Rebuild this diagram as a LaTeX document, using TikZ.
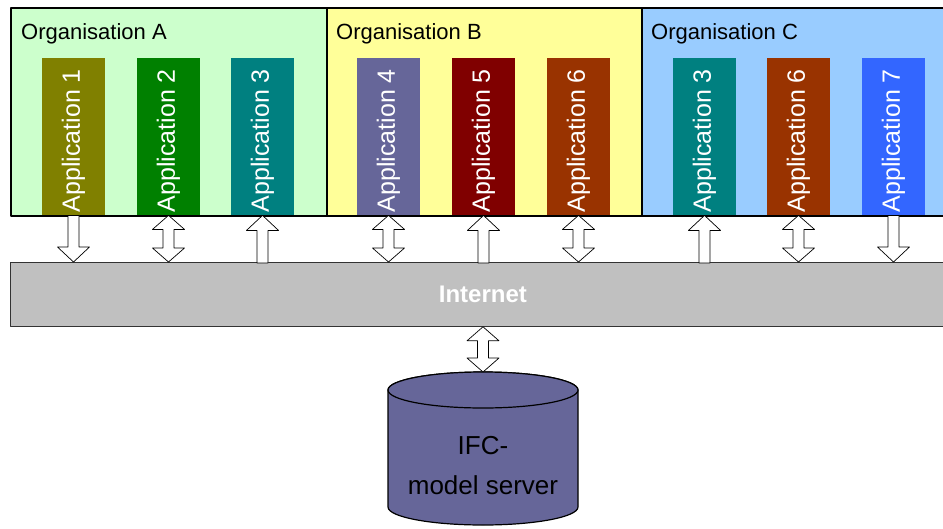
\documentclass[tikz,border=0pt]{standalone}
\usepackage{fontspec}
\setmainfont{Liberation Sans}
\usepackage{tikz}
\usetikzlibrary{arrows}
\definecolor{orgA}{HTML}{CCFFCC}
\definecolor{orgB}{HTML}{FFFF99}
\definecolor{orgC}{HTML}{99CCFF}
\definecolor{appOlive}{HTML}{808000}
\definecolor{appGreen}{HTML}{008000}
\definecolor{appTeal}{HTML}{008080}
\definecolor{appSlate}{HTML}{666699}
\definecolor{appMaroon}{HTML}{800000}
\definecolor{appRust}{HTML}{993300}
\definecolor{appBlue}{HTML}{3366FF}
\definecolor{netGrey}{HTML}{C0C0C0}
\tikzset{
    org/.style={draw=black,line width=1.5pt,anchor=north west,inner sep=0pt,minimum height=208pt},
    orglabel/.style={anchor=base west,inner sep=0pt,font=\fontsize{22}{26}\selectfont},
    app/.style={anchor=north,inner sep=0pt,minimum width=63pt,minimum height=157pt,text=white,font=\fontsize{25}{28}\selectfont},
    net/.style={draw=black!80,line width=0.8pt,fill=netGrey,anchor=north west,inner sep=0pt,minimum width=945pt,minimum height=64pt,text=white,font=\bfseries\fontsize{24}{28}\selectfont},
    blockarrow/.style={draw=black,line width=0.7pt,fill=white},
    srvbody/.style={draw=black,line width=1.2pt,fill=appSlate},
    srvtext/.style={align=center,inner sep=0pt,font=\fontsize{26}{40}\selectfont}
}
\newcommand{\applabel}[1]{\rotatebox{90}{\kern-8pt #1}}
\newcommand{\arrowup}[2]{%
    \coordinate (ta) at (#1); \coordinate (tb) at (#2);
    \draw[blockarrow] (ta) -- ([shift={(16,15)}]ta) -- ([shift={(5.5,15)}]ta) -- ([shift={(5.5,1)}]tb)
        -- ([shift={(-5.5,1)}]tb) -- ([shift={(-5.5,15)}]ta) -- ([shift={(-16,15)}]ta) -- cycle;}
\newcommand{\arrowdown}[2]{%
    \coordinate (ta) at (#1); \coordinate (tb) at (#2);
    \draw[blockarrow] (tb) -- ([shift={(16,-15)}]tb) -- ([shift={(5.5,-15)}]tb) -- ([shift={(5.5,0)}]ta)
        -- ([shift={(-5.5,0)}]ta) -- ([shift={(-5.5,-15)}]tb) -- ([shift={(-16,-15)}]tb) -- cycle;}
\newcommand{\arrowboth}[2]{%
    \coordinate (ta) at (#1); \coordinate (tb) at (#2);
    \draw[blockarrow] (ta) -- ([shift={(16,14)}]ta) -- ([shift={(5.5,14)}]ta) -- ([shift={(5.5,-14)}]tb)
        -- ([shift={(16,-14)}]tb) -- (tb) -- ([shift={(-16,-14)}]tb) -- ([shift={(-5.5,-14)}]tb)
        -- ([shift={(-5.5,14)}]ta) -- ([shift={(-16,14)}]ta) -- cycle;}

\begin{document}
\begin{tikzpicture}[line cap=round,line join=round,x=1.0pt,y=-1.0pt]
        \useasboundingbox (0,0) rectangle (943,528);
        \clip (0,0) rectangle (943,528);
        \node[org,fill=orgA,minimum width=316pt] (orgA) at (10,7) {};
        \node[org,fill=orgB,minimum width=315pt] (orgB) at (326,7) {};
        \node[org,fill=orgC,minimum width=320pt] (orgC) at (641,7) {};
        \node[orglabel] (labA) at (21,39) {Organisation A};
        \node[orglabel] (labB) at (336,39) {Organisation B};
        \node[orglabel] (labC) at (651,39) {Organisation C};
        \node[app,fill=appOlive] (app1) at (73.5,58) {\applabel{Application 1}};
        \node[app,fill=appGreen] (app2) at (168.5,58) {\applabel{Application 2}};
        \node[app,fill=appTeal] (app3) at (262.5,58) {\applabel{Application 3}};
        \node[app,fill=appSlate] (app4) at (388.5,58) {\applabel{Application 4}};
        \node[app,fill=appMaroon] (app5) at (483.5,58) {\applabel{Application 5}};
        \node[app,fill=appRust] (app6) at (578.5,58) {\applabel{Application 6}};
        \node[app,fill=appTeal] (app3c) at (704.5,58) {\applabel{Application 3}};
        \node[app,fill=appRust] (app6c) at (798.5,58) {\applabel{Application 6}};
        \node[app,fill=appBlue] (app7) at (893.5,58) {\applabel{Application 7}};
        \node[net] (net) at (10,262) {Internet};
        \arrowdown{app1.south}{app1.south |- net.north}
        \arrowboth{app2.south}{app2.south |- net.north}
        \arrowup{app3.south}{app3.south |- net.north}
        \arrowboth{app4.south}{app4.south |- net.north}
        \arrowup{app5.south}{app5.south |- net.north}
        \arrowboth{app6.south}{app6.south |- net.north}
        \arrowup{app3c.south}{app3c.south |- net.north}
        \arrowboth{app6c.south}{app6c.south |- net.north}
        \arrowdown{app7.south}{app7.south |- net.north}
        \draw[srvbody] (388,390) -- (388,507) arc[start angle=180,end angle=0,x radius=95,y radius=18]
            -- (578,390) arc[start angle=0,end angle=-180,x radius=95,y radius=18] -- cycle;
        \draw[srvbody] (483,390) ellipse [x radius=95,y radius=18];
        \coordinate (srvtop) at (483,372);
        \node[srvtext] (srv) at (483,466) {IFC-\\model server};
        \arrowboth{srvtop |- net.south}{srvtop}
\end{tikzpicture}
\end{document}
